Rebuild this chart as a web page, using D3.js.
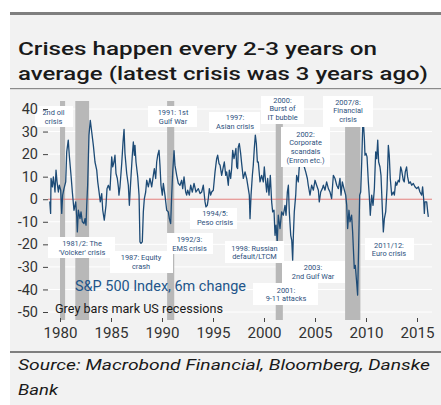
<!DOCTYPE html>
<html>
<head>
<meta charset="utf-8">
<script src="https://cdn.jsdelivr.net/npm/d3@7/dist/d3.min.js"></script>
<style>
  html, body { margin: 0; padding: 0; background: #fff; }
  svg { display: block; font-family: Roboto, "Open Sans", sans-serif; }
</style>
</head>
<body>
<svg id="chart" width="441" height="405"></svg>
<script>
// ---------- data ----------
const titleLines = ["Crises happen every 2-3 years on", "average (latest crisis was 3 years ago)"];
const sourceLines = ["Source: Macrobond Financial, Bloomberg, Danske", "Bank"];
const seriesName = "S&P 500 Index, 6m change";
const recessionNote = "Grey bars mark US recessions";

const yearTicks = [1980, 1985, 1990, 1995, 2000, 2005, 2010, 2015];
const valueTicks = [40, 30, 20, 10, 0, -10, -20, -30, -40, -50];

const recessionStarts = [1980.0, 1981.5, 1990.5, 2001.15, 2007.95];
const recessionEnds   = [1980.5, 1982.85, 1991.2, 2001.85, 2009.45];

const years = [
 1979.00,1979.08,1979.12,1979.25,1979.35,1979.51,1979.61,1979.71,1979.84,1979.93,
 1980.07,1980.17,1980.26,1980.39,1980.56,1980.66,1980.81,1980.91,1981.08,1981.21,
 1981.37,1981.54,1981.64,1981.70,1981.80,1981.96,1982.06,1982.19,1982.35,1982.45,
 1982.55,1982.62,1982.71,1982.84,1982.97,1983.11,1983.27,1983.43,1983.60,1983.70,
 1983.85,1983.95,1984.09,1984.19,1984.34,1984.51,1984.61,1984.74,1984.90,1985.07,
 1985.17,1985.29,1985.39,1985.49,1985.62,1985.72,1985.78,1985.88,1986.05,1986.18,
 1986.28,1986.37,1986.54,1986.70,1986.80,1986.93,1987.09,1987.19,1987.29,1987.35,
 1987.45,1987.62,1987.75,1987.84,1987.94,1988.07,1988.17,1988.27,1988.40,1988.50,
 1988.66,1988.82,1988.99,1989.15,1989.25,1989.38,1989.48,1989.58,1989.71,1989.80,
 1989.90,1990.03,1990.13,1990.29,1990.46,1990.62,1990.72,1990.85,1990.95,1991.05,
 1991.18,1991.27,1991.44,1991.60,1991.76,1991.93,1992.03,1992.16,1992.32,1992.42,
 1992.52,1992.68,1992.81,1992.97,1993.14,1993.33,1993.56,1993.73,1993.89,1994.05,
 1994.22,1994.31,1994.44,1994.54,1994.64,1994.77,1994.87,1995.03,1995.20,1995.36,
 1995.46,1995.59,1995.69,1995.85,1996.01,1996.11,1996.25,1996.34,1996.50,1996.60,
 1996.73,1996.83,1996.93,1997.06,1997.16,1997.25,1997.32,1997.42,1997.48,1997.58,
 1997.71,1997.81,1997.97,1998.14,1998.30,1998.46,1998.56,1998.63,1998.73,1998.86,
 1998.95,1999.05,1999.15,1999.25,1999.35,1999.44,1999.61,1999.77,1999.93,2000.03,
 2000.10,2000.26,2000.36,2000.49,2000.62,2000.75,2000.85,2000.98,2001.08,2001.18,
 2001.30,2001.40,2001.57,2001.73,2001.89,2002.06,2002.16,2002.29,2002.39,2002.48,
 2002.62,2002.72,2002.81,2002.88,2002.97,2003.11,2003.20,2003.36,2003.53,2003.69,
 2003.86,2003.95,2004.09,2004.25,2004.34,2004.51,2004.67,2004.84,2005.00,2005.16,
 2005.33,2005.42,2005.56,2005.72,2005.82,2005.98,2006.14,2006.31,2006.47,2006.63,
 2006.80,2006.96,2007.13,2007.29,2007.45,2007.55,2007.68,2007.84,2008.01,2008.11,
 2008.20,2008.33,2008.43,2008.59,2008.69,2008.85,2008.95,2009.08,2009.18,2009.28,
 2009.38,2009.48,2009.58,2009.68,2009.74,2009.84,2009.90,2010.00,2010.10,2010.23,
 2010.32,2010.42,2010.56,2010.69,2010.82,2010.95,2011.05,2011.15,2011.24,2011.37,
 2011.47,2011.60,2011.70,2011.80,2011.93,2012.06,2012.19,2012.28,2012.38,2012.52,
 2012.68,2012.78,2012.91,2013.01,2013.17,2013.27,2013.40,2013.49,2013.66,2013.75,
 2013.85,2013.98,2014.08,2014.21,2014.34,2014.48,2014.64,2014.80,2014.97,2015.13,
 2015.29,2015.46,2015.55,2015.65,2015.72,2015.78,2015.95,2016.05,2016.11
];
const changes = [
 -1.0,-6.3,9.2,5.5,9.9,3.2,12.9,7.7,3.2,6.2,
 4.0,-6.3,1.8,4.7,7.7,21.0,26.2,19.5,10.6,3.2,
 -4.9,-1.2,-7.8,-14.5,-4.9,-8.6,-5.6,-10.0,-10.8,-8.6,
 -11.5,-2.7,6.2,28.4,35.0,29.8,23.9,16.5,12.9,7.7,
 2.5,-1.2,2.5,-4.9,-9.3,-2.7,4.7,6.2,4.0,18.8,
 14.3,16.5,19.5,11.4,9.2,5.5,1.8,5.5,15.8,25.4,
 31.0,20.3,11.4,6.2,-2.7,7.7,19.5,25.4,19.5,23.9,
 16.5,9.9,1.8,-18.9,-19.6,-18.9,-5.6,0.3,3.2,8.4,
 5.5,9.2,5.5,10.6,13.6,9.2,16.5,19.5,21.7,15.1,
 6.2,1.8,7.0,1.8,-4.9,-5.6,-8.6,-10.8,1.8,12.1,
 21.5,15.1,10.6,7.0,6.2,8.4,4.7,9.9,3.2,1.8,
 4.0,1.8,6.2,3.2,7.0,3.2,4.7,2.5,3.2,6.2,
 -1.2,-3.4,-2.7,0.3,4.7,1.8,3.2,4.0,12.1,18.0,
 19.5,15.8,15.1,10.6,14.3,16.5,10.6,12.1,6.2,12.9,
 9.2,13.6,21.7,18.0,20.3,22.5,14.3,13.6,23.2,24.7,
 20.3,15.8,9.2,12.1,9.2,4.7,1.8,-8.6,1.8,10.6,
 15.1,22.5,28.4,24.7,16.5,16.5,7.7,10.6,7.7,14.3,
 10.6,3.2,9.2,1.8,10.6,-1.2,-5.6,-4.9,-16.0,-11.5,
 -18.9,-7.1,-13.0,-5.6,-7.1,-2.7,-7.1,3.2,6.2,-5.6,
 -16.0,-18.2,-27.0,-16.0,-5.6,1.8,10.6,7.7,19.5,15.1,
 16.5,14.3,12.1,9.2,6.2,1.8,6.2,4.0,8.4,6.2,
 4.0,-1.2,3.2,4.7,6.2,4.0,7.7,4.7,3.2,0.3,
 10.6,9.2,6.2,4.7,9.2,1.8,7.7,4.7,1.8,-2.7,
 -13.0,-4.9,-10.0,-7.1,-14.5,-30.7,-29.3,-36.6,-42.5,-20.4,
 1.8,3.2,16.5,32.8,34.3,26.9,19.5,20.3,18.8,7.7,
 1.8,-7.1,1.8,-2.7,4.7,21.0,18.0,26.2,16.5,14.3,
 10.6,-4.1,-14.5,-8.6,-5.6,4.7,23.9,19.5,9.2,1.8,
 3.2,1.8,7.7,6.2,8.4,7.7,14.3,12.9,8.4,7.7,
 12.1,14.3,9.9,7.0,7.7,6.2,7.0,5.5,4.7,5.5,
 3.2,1.8,5.5,0.3,-6.3,-1.2,-1.2,-5.6,-7.8
];

const annotations = [
  {lines:["2nd oil","crisis"], box:[35,106,38,21], cx:53.5, y0:115},
  {lines:["1991: 1st","Gulf War"], box:[148,106,49,21], cx:173, y0:115},
  {lines:["1997:","Asian crisis"], box:[209,112,51,21], cx:235, y0:120},
  {lines:["2000:","Burst of","IT bubble"], box:[261,96,43,28], cx:282.5, y0:102.5},
  {lines:["2007/8:","Financial","crisis"], box:[323,96,50,31], cx:348, y0:104.5},
  {lines:["2002:","Corporate","scandals","(Enron etc.)"], box:[281,127,49,40], cx:305.5, y0:136.5},
  {lines:["1994/5:","Peso crisis"], box:[190,208,47,21], cx:215, y0:216},
  {lines:["1981/2: The","'Volcker' crisis"], box:[48,237,67,21], cx:82, y0:246},
  {lines:["1987: Equity","crash"], box:[110,251,63,22], cx:141, y0:260},
  {lines:["1992/3:","EMS crisis"], box:[167,233,46,21], cx:189.5, y0:242},
  {lines:["1998: Russian","default/LTCM"], box:[225,241,59,22], cx:254.5, y0:250.5},
  {lines:["2003:","2nd Gulf War"], box:[282,261,63,22], cx:313, y0:270},
  {lines:["2001:","9-11 attacks"], box:[253,283,65,22], cx:286, y0:292.5},
  {lines:["2011/12:","Euro crisis"], box:[365,238,49,22], cx:389, y0:247.5}
];

// ---------- drawing ----------
const svg = d3.select("#chart");
svg.append("rect").attr("width",441).attr("height",405).attr("fill","#ffffff");
svg.append("rect").attr("x",10).attr("y",12).attr("width",431).attr("height",393).attr("fill","#f2f2f2");
svg.append("rect").attr("x",10).attr("y",12).attr("width",431).attr("height",3).attr("fill","#7f7f7f");

const tw = [359, 410];
titleLines.forEach((t,i) => {
  svg.append("text").attr("x",18).attr("y",55 + i*25)
    .attr("font-size",19).attr("font-weight",500).attr("fill","#1a1a1a")
    .attr("textLength",tw[i]).attr("lengthAdjust","spacingAndGlyphs")
    .text(t);
});
svg.append("rect").attr("x",10).attr("y",88).attr("width",431).attr("height",1.2).attr("fill","#8a8a8a");

const x = d3.scaleLinear().domain([1980, 2015]).range([60, 417]);
const y = d3.scaleLinear().domain([-50, 40]).range([312, 109]);

// grid
svg.append("g").selectAll("line").data(valueTicks).join("line")
  .attr("x1",48).attr("x2",432)
  .attr("y1",d=>y(d)).attr("y2",d=>y(d))
  .attr("stroke","#ffffff").attr("stroke-width",1);

// recession bars
svg.append("g").selectAll("rect").data(recessionStarts).join("rect")
  .attr("x",(d)=>x(d))
  .attr("width",(d,i)=>x(recessionEnds[i]) - x(d))
  .attr("y",101).attr("height",219)
  .attr("fill","#b8b8b8");

// zero line
svg.append("line").attr("x1",48).attr("x2",432)
  .attr("y1",y(0)).attr("y2",y(0))
  .attr("stroke","#e07a78").attr("stroke-width",1);

// series line
const pts = years.map((yr,i)=>[yr, changes[i]]);
svg.append("path").datum(pts)
  .attr("fill","none").attr("stroke","#1d4b76").attr("stroke-width",1.3)
  .attr("stroke-linejoin","round")
  .attr("d", d3.line().x(d=>x(d[0])).y(d=>y(d[1])));

// annotation boxes
const ann = svg.append("g");
annotations.forEach(a => {
  ann.append("rect").attr("x",a.box[0]).attr("y",a.box[1])
    .attr("width",a.box[2]).attr("height",a.box[3]).attr("fill","#ffffff");
  a.lines.forEach((l,i) => {
    ann.append("text").attr("x",a.cx).attr("y",a.y0 + i*8.8)
      .attr("text-anchor","middle").attr("font-size",7.4)
      .attr("fill","#2c4f7c").text(l);
  });
});

// legend-like texts
svg.append("text").attr("x",75).attr("y",291).attr("font-size",14)
  .attr("fill","#22558a").attr("textLength",171).attr("lengthAdjust","spacingAndGlyphs")
  .text(seriesName);
svg.append("text").attr("x",55).attr("y",313).attr("font-size",13)
  .attr("fill","#1a1a1a").attr("textLength",168).attr("lengthAdjust","spacingAndGlyphs")
  .text(recessionNote);

// axes
const yAxis = svg.append("g").attr("transform","translate(48,0)")
  .call(d3.axisLeft(y).tickValues(valueTicks).tickSize(5).tickPadding(5).tickFormat(d => String(d)));
yAxis.select(".domain").remove();
yAxis.selectAll("line").attr("stroke","#444");
yAxis.selectAll("text").attr("font-size",14.5).attr("fill","#333").attr("font-family","Roboto, sans-serif");

const xAxis = svg.append("g").attr("transform","translate(0,318)")
  .call(d3.axisBottom(x).tickValues(yearTicks).tickSize(4).tickPadding(5).tickFormat(d => String(d)));
xAxis.select(".domain").remove();
xAxis.selectAll("line").attr("stroke","#444");
xAxis.selectAll("text").attr("font-size",15).attr("fill","#333").attr("font-family","Roboto, sans-serif")
  .attr("textLength",34).attr("lengthAdjust","spacingAndGlyphs");

// bottom rule + source
svg.append("rect").attr("x",10).attr("y",351).attr("width",431).attr("height",2).attr("fill","#7f7f7f");
const sw = [412, 40];
sourceLines.forEach((t,i) => {
  svg.append("text").attr("x",18).attr("y",370 + i*25)
    .attr("font-size",15).attr("font-style","italic").attr("fill","#1a1a1a")
    .attr("textLength",sw[i]).attr("lengthAdjust","spacingAndGlyphs")
    .text(t);
});
</script>
</body>
</html>
